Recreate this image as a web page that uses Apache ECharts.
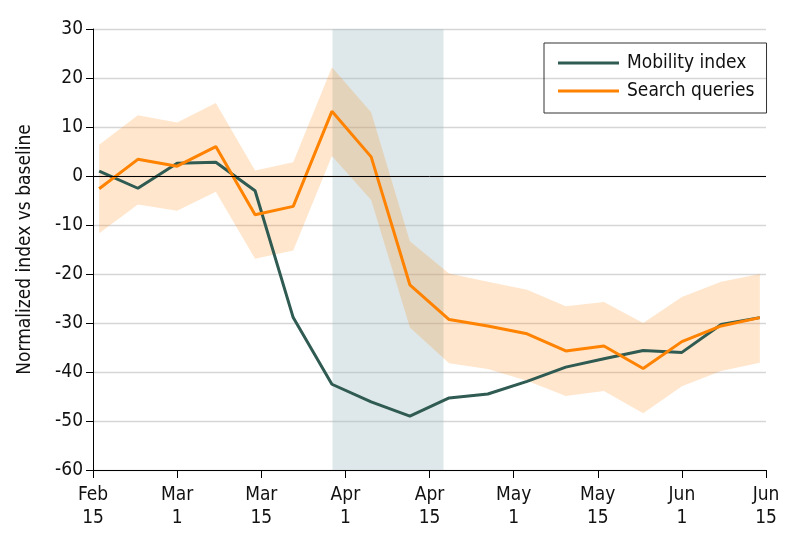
<!DOCTYPE html>
<html>
<head>
<meta charset="utf-8">
<script src="https://cdn.jsdelivr.net/npm/echarts@6/dist/echarts.min.js"></script>
<style>
html,body{margin:0;padding:0;background:#fff;}
#chart{width:794px;height:546px;}
</style>
</head>
<body>
<div id="chart"></div>
<script>
// x positions in days after Feb 15 (axis ticks every 15 days)
var days = [1.1, 8.0, 15.0, 21.9, 28.9, 35.7, 42.6, 49.6, 56.5, 63.5, 70.4, 77.4, 84.3, 91.1, 98.1, 105.0, 112.0, 118.9];
var mobility = [1.0, -2.5, 2.6, 2.8, -3.0, -28.9, -42.5, -46.1, -49.0, -45.3, -44.5, -41.9, -39.0, -37.3, -35.6, -36.0, -30.3, -28.9];
var search = [-2.6, 3.4, 2.0, 6.0, -7.9, -6.2, 13.2, 3.9, -22.2, -29.3, -30.6, -32.2, -35.7, -34.7, -39.3, -33.8, -30.6, -28.9];
var searchUpper = [6.4, 12.4, 10.9, 14.9, 1.1, 2.8, 22.2, 13.0, -13.3, -19.9, -21.6, -23.2, -26.6, -25.7, -30.0, -24.7, -21.6, -20.0];
var searchLower = [-11.7, -5.8, -7.1, -3.2, -16.9, -15.2, 4.1, -4.9, -30.9, -38.2, -39.4, -41.8, -44.9, -43.9, -48.4, -42.9, -39.8, -38.1];
var xTickLabels = ['Feb\n15', 'Mar\n1', 'Mar\n15', 'Apr\n1', 'Apr\n15', 'May\n1', 'May\n15', 'Jun\n1', 'Jun\n15'];
var shadeRange = [42.7, 62.5];
var seriesNames = ['Mobility index', 'Search queries'];

var FONT = '"DejaVu Sans Condensed", "DejaVu Sans", sans-serif';

function pairs(xs, ys) { return xs.map(function (x, i) { return [x, ys[i]]; }); }
var bandData = days.map(function (d, i) { return [d, searchLower[i], searchUpper[i]]; });

function renderBand(params, api) {
  if (params.dataIndex !== 0) return null;
  var pts = [];
  for (var i = 0; i < bandData.length; i++) pts.push(api.coord([bandData[i][0], bandData[i][2]]));
  for (var j = bandData.length - 1; j >= 0; j--) pts.push(api.coord([bandData[j][0], bandData[j][1]]));
  return {
    type: 'polygon',
    shape: {points: pts},
    style: {fill: 'rgba(255,130,0,0.2)', stroke: 'none'},
    silent: true
  };
}

var chart = echarts.init(document.getElementById('chart'), null, {renderer: 'canvas'});
chart.setOption({
  animation: false,
  backgroundColor: '#ffffff',
  grid: {left: 93, right: 28, top: 29, bottom: 76},
  legend: {
    data: [
      {name: seriesNames[0], itemStyle: {color: '#2f5b52'}},
      {name: seriesNames[1], itemStyle: {color: '#ff8200'}}
    ],
    orient: 'vertical',
    left: 544, top: 43,
    icon: 'rect',
    itemWidth: 61, itemHeight: 3,
    itemGap: 8,
    padding: [10, 12, 12, 14],
    borderColor: '#333', borderWidth: 1,
    textStyle: {fontFamily: FONT, fontSize: 19, color: '#111', lineHeight: 20, padding: [0, 0, 0, 3]}
  },
  xAxis: {
    type: 'value', min: 0, max: 120, interval: 15,
    axisLine: {show: true, onZero: false, lineStyle: {color: '#000', width: 1}},
    axisTick: {show: true, length: 8, lineStyle: {color: '#000', width: 1}},
    splitLine: {show: false},
    axisLabel: {
      fontFamily: FONT, fontSize: 19, color: '#111', lineHeight: 23, margin: 14,
      formatter: function (v) { return xTickLabels[Math.round(v / 15)]; }
    }
  },
  yAxis: {
    type: 'value', min: -60, max: 30, interval: 10,
    name: 'Normalized index vs baseline',
    nameLocation: 'middle', nameGap: 58,
    nameTextStyle: {fontFamily: FONT, fontSize: 19, color: '#111'},
    axisLine: {show: true, lineStyle: {color: '#000', width: 1}},
    axisTick: {show: true, length: 7, lineStyle: {color: '#000', width: 1}},
    splitLine: {show: true, lineStyle: {color: '#d6d6d6', width: 1.3}},
    axisLabel: {fontFamily: FONT, fontSize: 19, color: '#111', margin: 10}
  },
  series: [
    {
      name: 'band', type: 'custom', data: bandData,
      encode: {x: 0, y: [1, 2]},
      renderItem: renderBand, silent: true, z: 1,
      markArea: {
        silent: true,
        itemStyle: {color: 'rgba(160,190,195,0.35)'},
        data: [[{xAxis: shadeRange[0]}, {xAxis: shadeRange[1]}]]
      }
    },
    {
      name: seriesNames[0], type: 'line', data: pairs(days, mobility),
      symbol: 'none', z: 3,
      lineStyle: {color: '#2f5b52', width: 3}, itemStyle: {color: '#2f5b52'},
      markLine: {
        silent: true, symbol: ['none', 'none'], label: {show: false},
        lineStyle: {color: '#000', width: 1, type: 'solid'},
        data: [{yAxis: 0}]
      }
    },
    {
      name: seriesNames[1], type: 'line', data: pairs(days, search),
      symbol: 'none', z: 4,
      lineStyle: {color: '#ff8200', width: 3}, itemStyle: {color: '#ff8200'}
    }
  ]
});
</script>
</body>
</html>
